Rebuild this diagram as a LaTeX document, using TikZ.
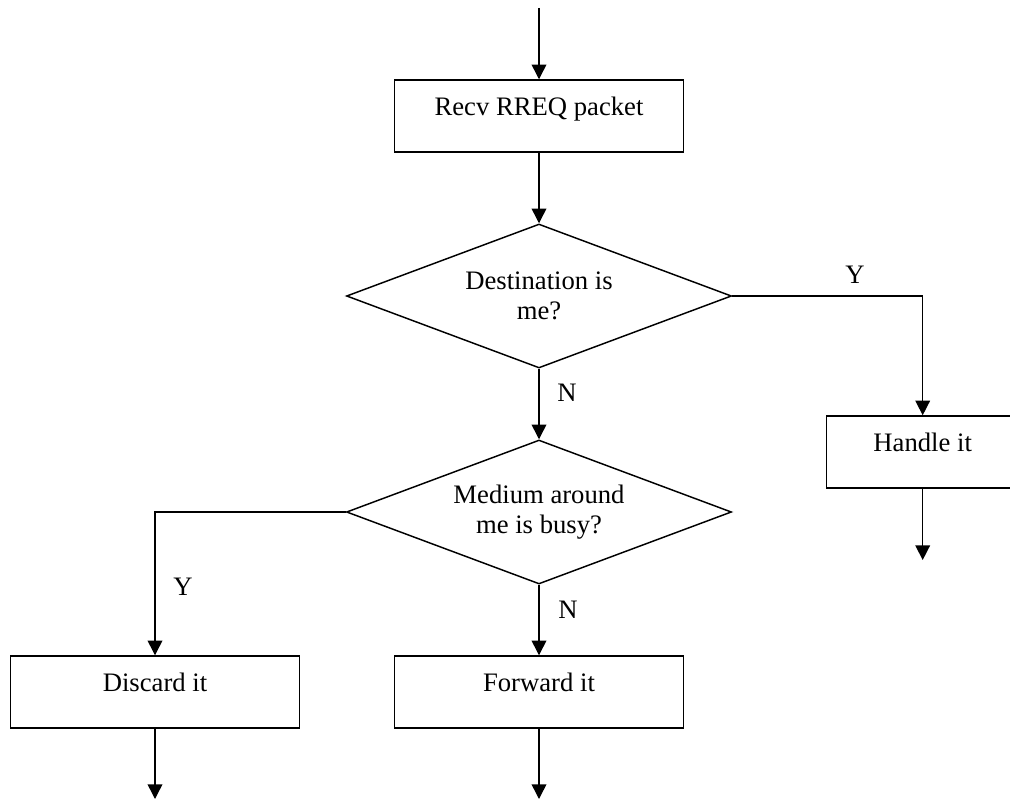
\documentclass[tikz,border=0pt]{standalone}
\usepackage{fontspec}
\setmainfont{Liberation Serif}
\usetikzlibrary{shapes.geometric,arrows.meta}

\begin{document}
\begin{tikzpicture}[x=0.75pt,y=0.75pt,yscale=-1,xscale=1,
	line width=1.1pt,
	every node/.style={font=\fontsize{20}{22.5}\selectfont},
	arr/.style={-{Triangle[width=11pt,length=11pt]}},
	box/.style={draw,rectangle,minimum width=216.75pt,inner xsep=0pt,inner ysep=3pt,text height=23.5pt,text depth=24.5pt},
	test/.style={draw,diamond,aspect=2.674,minimum width=288.75pt,minimum height=108pt,inner sep=0pt,align=center},
	lbl/.style={inner sep=0.75pt}]
	\useasboundingbox (0,0) rectangle (1010,799);

	%Shape: Rectangle
	\node [box] (recv) at (539,116) {Recv RREQ packet};
	%Shape: Diamond
	\node [test] (dest) at (539,296) {Destination is\\me?};
	%Shape: Diamond
	\node [test] (busy) at (539,512) {Medium around\\me is busy?};
	%Shape: Rectangle
	\node [box,minimum width=144pt] (handle) at (922.7,452) {Handle it};
	%Shape: Rectangle
	\node [box] (discard) at (155,692) {Discard it};
	%Shape: Rectangle
	\node [box] (forward) at (539,692) {Forward it};

	\coordinate (start) at (539,8);
	\coordinate (endhandle) at (922.7,560);
	\coordinate (enddiscard) at (155,799);
	\coordinate (endforward) at (539,799);

	%Straight Lines
	\draw [arr] (start) -- (recv);
	\draw [arr] (recv) -- (dest);
	\draw [arr] (dest.east) -| (handle);
	\draw [arr] (dest) -- (busy);
	\draw [arr] (busy.west) -| (discard);
	\draw [arr] (busy) -- (forward);
	\draw [arr] (handle) -- (endhandle);
	\draw [arr] (discard) -- (enddiscard);
	\draw [arr] (forward) -- (endforward);

	% Text Node
	\node [lbl] (ydest) at (855,275) {Y};
	% Text Node
	\node [lbl] (ndest) at (567,393) {N};
	% Text Node
	\node [lbl] (ybusy) at (183,587) {Y};
	% Text Node
	\node [lbl] (nbusy) at (568,610) {N};

\end{tikzpicture}
\end{document}
